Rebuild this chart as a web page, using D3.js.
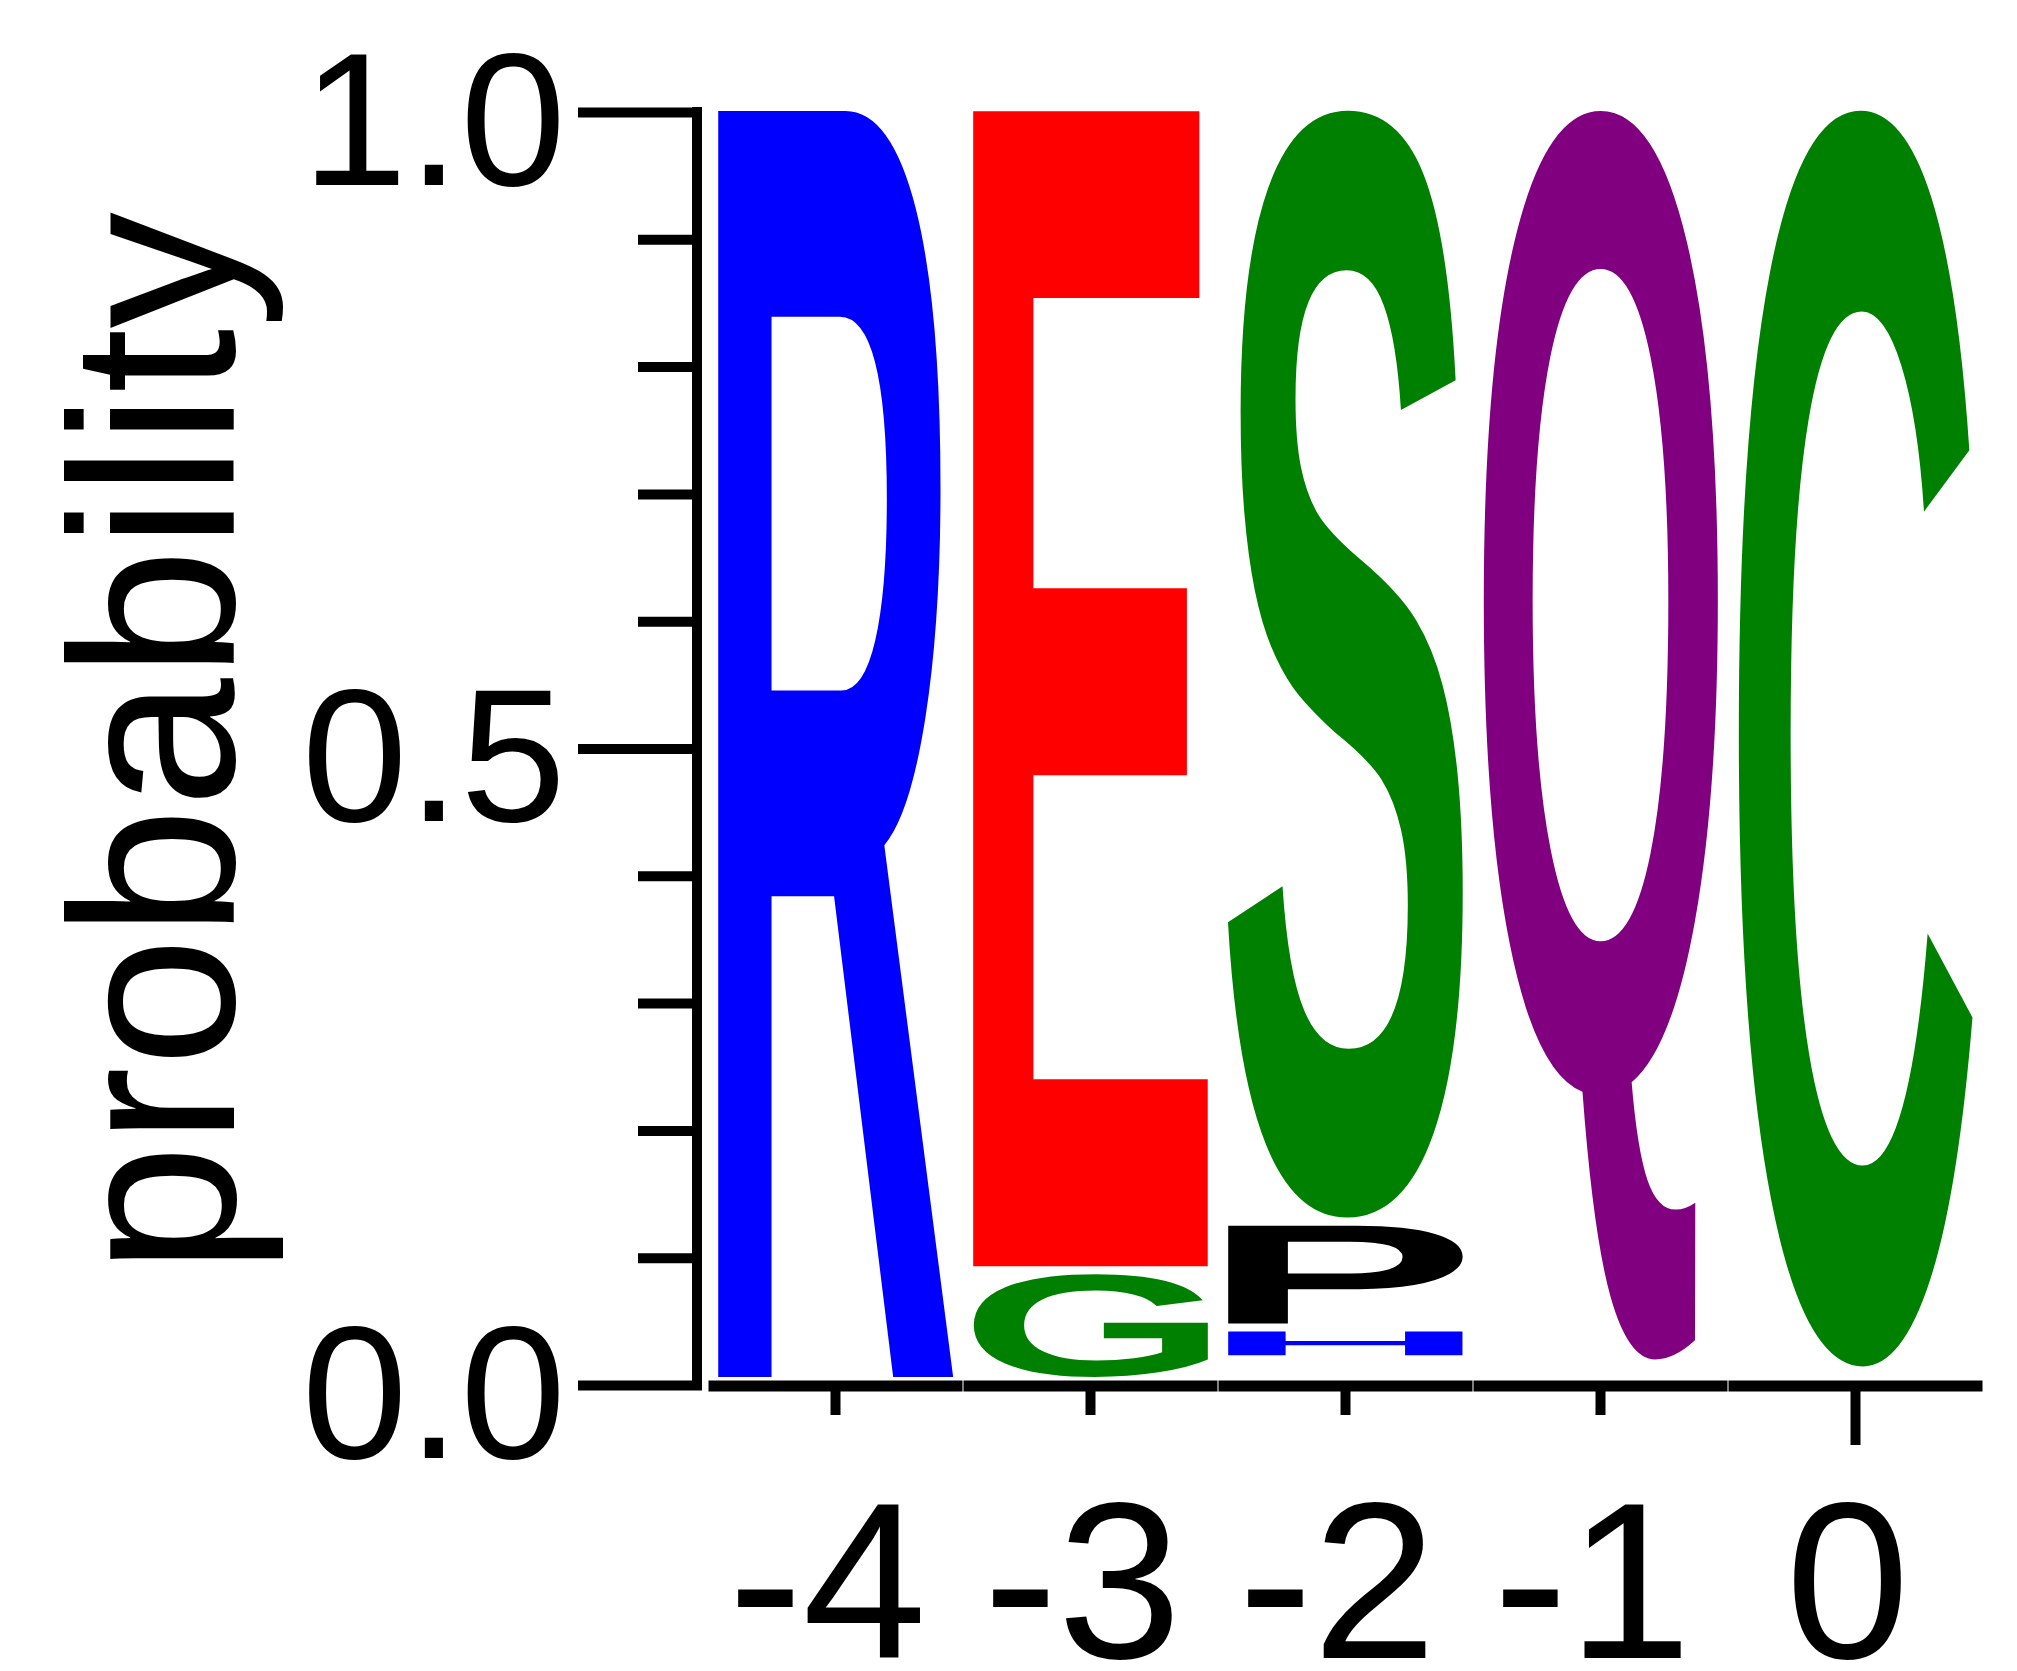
<!DOCTYPE html>
<html>
<head>
<meta charset="utf-8">
<script src="https://cdn.jsdelivr.net/npm/d3@7"></script>
<style>
  html, body { margin: 0; padding: 0; background: #ffffff; }
  svg { display: block; }
</style>
</head>
<body>
<svg id="chart" width="2017" height="1671"></svg>
<script>
// Sequence positions relative to the site (0) and their axis labels
const positions = [-4, -3, -2, -1, 0];
const positionLabels = ["-4", "-3", "-2", "-1", "0"];

// Residues at each position, listed from the top of the stack downwards
const residues = [["R"], ["E", "G"], ["S", "P", "H"], ["Q"], ["C"]];
// Probability of each residue, in the same order
const probabilities = [[1.0], [0.913, 0.087], [0.875, 0.083, 0.025], [0.987], [0.992]];

// Y axis ticks
const majorTicks = [0, 0.5, 1.0];
const minorTicks = [0.1, 0.2, 0.3, 0.4, 0.6, 0.7, 0.8, 0.9];
const yTitle = "probability";

// Chemistry colouring of the residues
const residueColor = {
  R: "#0000ff", K: "#0000ff", H: "#0000ff",
  E: "#ff0000", D: "#ff0000",
  G: "#008000", S: "#008000", C: "#008000", T: "#008000", Y: "#008000",
  Q: "#800080", N: "#800080",
  P: "#000000", A: "#000000", L: "#000000", V: "#000000", I: "#000000", M: "#000000", F: "#000000", W: "#000000"
};

const FONT = "'Liberation Sans', Arial, Helvetica, sans-serif";
const GLYPH_SIZE = 400;
const LETTER_GAP = 8;

const svg = d3.select("#chart");

const x = d3.scaleBand()
  .domain(positions)
  .range([708, 1983])
  .paddingInner(0.082)
  .paddingOuter(0.041);

const y = d3.scaleLinear().domain([0, 1]).range([1385, 112]);

// ---- glyph ink bounds, found by rasterising each letter once ----
const CW = 800, CH = 800, OX = 200, OY = 550;
const glyphCanvas = document.createElement("canvas");
glyphCanvas.width = CW; glyphCanvas.height = CH;
const ctx = glyphCanvas.getContext("2d", { willReadFrequently: true });
ctx.font = `bold ${GLYPH_SIZE}px ${FONT}`;
const inkCache = {};
function inkBox(ch) {
  if (inkCache[ch]) return inkCache[ch];
  ctx.clearRect(0, 0, CW, CH);
  ctx.fillStyle = "#000";
  ctx.fillText(ch, OX, OY);
  const d = ctx.getImageData(0, 0, CW, CH).data;
  let x0 = CW, x1 = -1, y0 = CH, y1 = -1;
  for (let yy = 0; yy < CH; yy++) {
    for (let xx = 0; xx < CW; xx++) {
      if (d[(yy * CW + xx) * 4 + 3] > 127) {
        if (xx < x0) x0 = xx;
        if (xx > x1) x1 = xx;
        if (yy < y0) y0 = yy;
        if (yy > y1) y1 = yy;
      }
    }
  }
  const box = { left: x0 - OX, right: x1 + 1 - OX, ascent: OY - y0, descent: y1 + 1 - OY };
  inkCache[ch] = box;
  return box;
}

// ---- stacked letters ----
const letters = [];
positions.forEach((pos, i) => {
  let top = 1;
  residues[i].forEach((res, j) => {
    const p = probabilities[i][j];
    letters.push({ pos, res, top, bottom: top - p });
    top -= p;
  });
});

svg.append("g").attr("class", "letters")
  .selectAll("text")
  .data(letters)
  .join("text")
  .attr("font-family", FONT)
  .attr("font-weight", "bold")
  .attr("font-size", GLYPH_SIZE)
  .attr("fill", d => residueColor[d.res])
  .attr("transform", d => {
    const b = inkBox(d.res);
    const w = b.right - b.left;
    const h = b.ascent + b.descent;
    const bx = x(d.pos);
    const by = y(d.top);
    const bw = x.bandwidth();
    const bh = (y(d.bottom) - LETTER_GAP) - by;
    return `translate(${bx},${by}) scale(${bw / w},${bh / h}) translate(${-b.left},${b.ascent})`;
  })
  .text(d => d.res);

// ---- y axis ----
const gy = svg.append("g").attr("transform", "translate(697,0)");

gy.append("line")
  .attr("x1", 0).attr("x2", 0)
  .attr("y1", y(1)).attr("y2", y(0))
  .attr("stroke", "#000").attr("stroke-width", 10).attr("stroke-linecap", "square");

const yMinor = d3.axisLeft(y).tickValues(minorTicks).tickSize(59).tickSizeOuter(0).tickFormat("");
const gMinor = gy.append("g").call(yMinor);
gMinor.select(".domain").remove();
gMinor.selectAll(".tick line").attr("x1", 5).attr("stroke", "#000").attr("stroke-width", 10);

const yMajor = d3.axisLeft(y).tickValues(majorTicks).tickSize(119).tickSizeOuter(0)
  .tickPadding(12).tickFormat(d3.format(".1f"));
const gMajor = gy.append("g").call(yMajor);
gMajor.select(".domain").remove();
gMajor.selectAll(".tick line").attr("x1", 5).attr("stroke", "#000").attr("stroke-width", 10);
gMajor.selectAll(".tick text")
  .attr("font-family", FONT)
  .attr("font-size", 190)
  .attr("fill", "#000")
  .attr("dy", "0.38em");

// ---- x axis: one baseline segment per position ----
const half = x.step() * x.paddingInner() / 2;
const gx = svg.append("g");
gx.selectAll("line.base")
  .data(positions)
  .join("line")
  .attr("class", "base")
  .attr("x1", d => x(d) - half + 0.5)
  .attr("x2", d => x(d) + x.bandwidth() + half - 0.5)
  .attr("y1", 1386).attr("y2", 1386)
  .attr("stroke", "#000").attr("stroke-width", 11);

gx.selectAll("line.tick")
  .data(positions)
  .join("line")
  .attr("class", "tick")
  .attr("x1", d => x(d) + x.bandwidth() / 2)
  .attr("x2", d => x(d) + x.bandwidth() / 2)
  .attr("y1", 1390)
  .attr("y2", d => d === 0 ? 1445 : 1415)
  .attr("stroke", "#000").attr("stroke-width", 10);

gx.selectAll("text")
  .data(positions)
  .join("text")
  .attr("x", d => x(d) + x.bandwidth() / 2 - 8)
  .attr("y", 1658)
  .attr("text-anchor", "middle")
  .attr("font-family", FONT)
  .attr("font-size", 223)
  .attr("fill", "#000")
  .text((d, i) => positionLabels[i]);

// ---- y title ----
svg.append("text")
  .attr("transform", "translate(234,743) rotate(-90)")
  .attr("text-anchor", "middle")
  .attr("font-family", FONT)
  .attr("font-size", 233)
  .attr("fill", "#000")
  .text(yTitle);
</script>
</body>
</html>
